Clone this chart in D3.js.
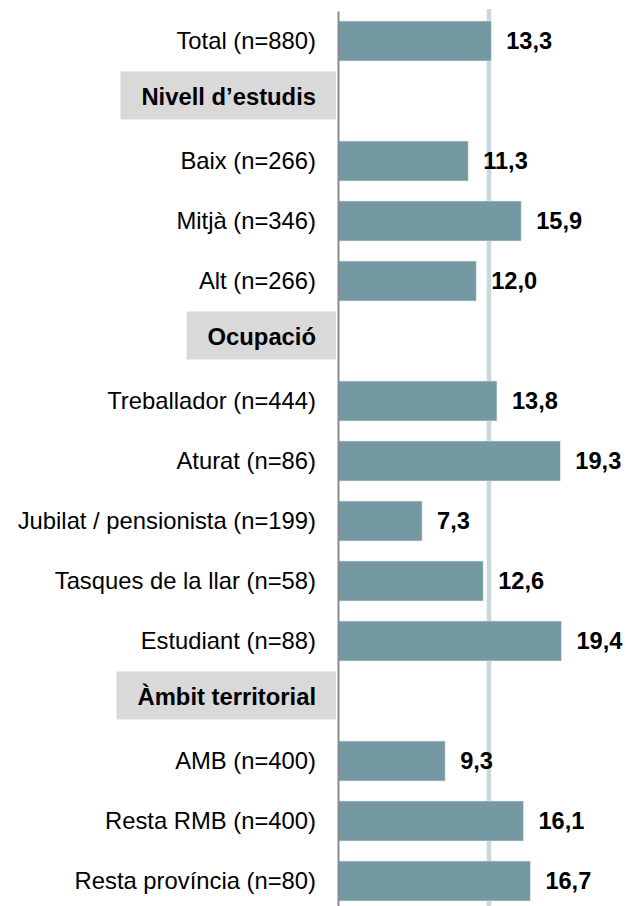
<!DOCTYPE html>
<html>
<head>
<meta charset="utf-8">
<script src="https://cdn.jsdelivr.net/npm/d3@7"></script>
<style>
  body { margin: 0; background: #fff; }
  svg { display: block; font-family: "Liberation Sans", Arial, sans-serif; }
</style>
</head>
<body>
<script>
// Row labels, top to bottom (headers have no value)
const labels = [
  "Total (n=880)",
  "Nivell d’estudis",
  "Baix (n=266)",
  "Mitjà (n=346)",
  "Alt (n=266)",
  "Ocupació",
  "Treballador (n=444)",
  "Aturat (n=86)",
  "Jubilat / pensionista (n=199)",
  "Tasques de la llar (n=58)",
  "Estudiant (n=88)",
  "Àmbit territorial",
  "AMB (n=400)",
  "Resta RMB (n=400)",
  "Resta província (n=80)"
];
const values = [13.3, null, 11.3, 15.9, 12.0, null, 13.8, 19.3, 7.3, 12.6, 19.4, null, 9.3, 16.1, 16.7];
const headers = ["Nivell d’estudis", "Ocupació", "Àmbit territorial"];
const totalValue = 13.3;

const width = 626;
const height = 906;
const axisX = 338;

const fmt = d3.formatLocale({ decimal: ",", thousands: ".", grouping: [3], currency: ["", "€"] }).format(".1f");

const svg = d3.select("body").append("svg")
  .attr("width", width)
  .attr("height", height);

// scales
const x = d3.scaleLinear()
  .domain([0, 20])
  .range([axisX, axisX + 230.4]);

const y = d3.scaleBand()
  .domain(labels)
  .range([11, 911])
  .paddingInner(1 / 3)
  .paddingOuter(1 / 6);

const rows = labels.map((label, i) => ({ label, value: values[i] }))
  .filter(d => d.value !== null);

// reference line at the total value
svg.append("rect")
  .attr("x", x(totalValue) - 4.5)
  .attr("y", 9)
  .attr("width", 4.5)
  .attr("height", height)
  .attr("fill", "#c9d8dd");

// bars
svg.append("g")
  .selectAll("rect")
  .data(rows)
  .join("rect")
  .attr("x", x(0))
  .attr("y", d => y(d.label))
  .attr("width", d => x(d.value) - x(0))
  .attr("height", y.bandwidth())
  .attr("fill", "#7599a3")
  .attr("stroke", "#e4ecee")
  .attr("stroke-width", 0.6);

// value labels
svg.append("g")
  .selectAll("text")
  .data(rows)
  .join("text")
  .attr("x", d => x(d.value) + 15)
  .attr("y", d => y(d.label) + y.bandwidth() / 2)
  .attr("dy", "0.35em")
  .attr("font-size", 23.6)
  .attr("font-weight", "bold")
  .attr("fill", "#000")
  .text(d => fmt(d.value));

// category axis
const axis = svg.append("g")
  .attr("transform", `translate(${axisX},0)`)
  .call(d3.axisLeft(y).tickSize(0).tickSizeOuter(0).tickPadding(22));

axis.select(".domain")
  .attr("stroke", "#8c8c8c")
  .attr("stroke-width", 2);

axis.selectAll(".tick text")
  .attr("font-size", 23.8)
  .attr("font-family", "Liberation Sans, Arial, sans-serif")
  .attr("fill", "#000");

// section headers: bold text on a grey box
axis.selectAll(".tick")
  .filter(d => headers.includes(d))
  .each(function () {
    const tick = d3.select(this);
    tick.attr("transform", function () {
      const t = d3.select(this).attr("transform");
      const m = /translate\(([^,]+),([^)]+)\)/.exec(t);
      return `translate(${+m[1]},${+m[2] - 4})`;
    });
    const text = tick.select("text")
      .attr("font-weight", "bold")
      .attr("font-size", 23.8);
    const bb = text.node().getBBox();
    tick.insert("rect", "text")
      .attr("x", bb.x - 21)
      .attr("y", -25.5)
      .attr("width", bb.width + 41)
      .attr("height", 48)
      .attr("fill", "#d9d9d9");
  });
</script>
</body>
</html>
